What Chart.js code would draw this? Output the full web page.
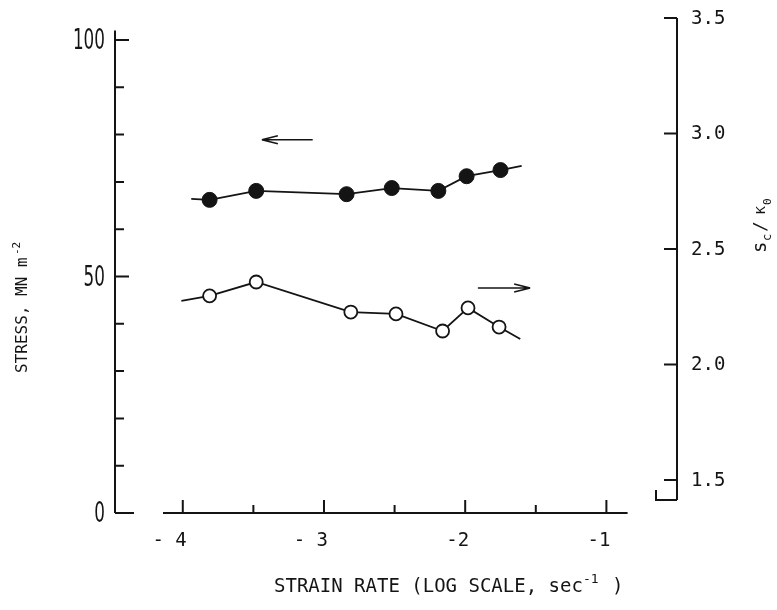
<!DOCTYPE html>
<html>
<head>
<meta charset="utf-8">
<script src="https://cdn.jsdelivr.net/npm/chart.js@4.4.1/dist/chart.umd.min.js"></script>
<style>
  html, body { margin: 0; padding: 0; background: #fff; }
  canvas { display: block; }
</style>
</head>
<body>
<canvas id="chart" width="777" height="610"></canvas>
<script>
// values; first and last entries are where the drawn line ends
const strainRateFilled = [-3.94, -3.81, -3.48, -2.84, -2.52, -2.19, -1.99, -1.75, -1.60];
const stress = [66.4, 66.2, 68.1, 67.4, 68.7, 68.1, 71.2, 72.5, 73.4];
const strainRateOpen = [-4.01, -3.81, -3.48, -2.81, -2.49, -2.16, -1.98, -1.76, -1.61];
const scRatio = [2.275, 2.297, 2.357, 2.227, 2.219, 2.145, 2.245, 2.162, 2.110];

const xTicks = [-4, -3.5, -3, -2.5, -2, -1.5, -1];
const xLabelValues = [-4, -3, -2, -1];
const xLabelText = ['- 4', '- 3', '-2', '-1'];
const leftTicks = [0, 10, 20, 30, 40, 50, 60, 70, 80, 90, 100];
const leftLabels = [0, 50, 100];
const rightTicks = [1.5, 2.0, 2.5, 3.0, 3.5];
const rightLabels = ['1.5', '2.0', '2.5', '3.0', '3.5'];

const INK = '#141414';
const MONO = "'DejaVu Sans Mono', monospace";

function endsHidden(arr, r) {
    return arr.map((_, i) => (i === 0 || i === arr.length - 1) ? 0 : r);
}

function arrow(ctx, x1, y1, x2, y2) {
    // x2,y2 is the tip
    const dir = Math.sign(x2 - x1);
    ctx.beginPath();
    ctx.moveTo(x1, y1);
    ctx.lineTo(x2, y2);
    ctx.moveTo(x2, y2);
    ctx.lineTo(x2 - dir * 16, y2 - 4);
    ctx.moveTo(x2, y2);
    ctx.lineTo(x2 - dir * 16, y2 + 4);
    ctx.stroke();
}

const paperAxes = {
    id: 'paperAxes',
    afterDraw(chart) {
        const { ctx, chartArea, scales: { x, yL, yR } } = chart;
        ctx.save();
        ctx.strokeStyle = INK;
        ctx.fillStyle = INK;
        ctx.lineWidth = 2;

        // left axis
        const lx = chartArea.left;
        ctx.beginPath();
        ctx.moveTo(lx, yL.getPixelForValue(0));
        ctx.lineTo(lx, yL.getPixelForValue(102));
        leftTicks.forEach(v => {
            const py = yL.getPixelForValue(v);
            const len = v === 0 ? 19 : (v % 50 === 0 ? 14 : 9);
            ctx.moveTo(lx, py);
            ctx.lineTo(lx + len, py);
        });
        ctx.stroke();

        ctx.font = "28px 'DejaVu Sans'";
        ctx.textAlign = 'right';
        ctx.textBaseline = 'middle';
        leftLabels.forEach(v => {
            ctx.save();
            ctx.translate(lx - 10, yL.getPixelForValue(v) + 2);
            ctx.scale(0.6, 1);
            ctx.fillText(String(v), 0, 0);
            ctx.restore();
        });

        // right axis
        const rx = chartArea.right;
        const rBottom = yR.getPixelForValue(1.413);
        ctx.beginPath();
        ctx.moveTo(rx, yR.getPixelForValue(3.5));
        ctx.lineTo(rx, rBottom);
        rightTicks.forEach(v => {
            const py = yR.getPixelForValue(v);
            ctx.moveTo(rx, py);
            ctx.lineTo(rx - 13, py);
        });
        ctx.moveTo(rx, rBottom);
        ctx.lineTo(rx - 21, rBottom);
        ctx.lineTo(rx - 21, rBottom - 10);
        ctx.stroke();

        ctx.font = '19px ' + MONO;
        ctx.textAlign = 'left';
        rightTicks.forEach((v, i) => {
            ctx.fillText(rightLabels[i], rx + 14, yR.getPixelForValue(v) + 1);
        });

        // bottom axis
        const by = yL.getPixelForValue(0);
        ctx.beginPath();
        ctx.moveTo(x.getPixelForValue(-4.14), by);
        ctx.lineTo(x.getPixelForValue(-0.85), by);
        xTicks.forEach(v => {
            const px = x.getPixelForValue(v);
            ctx.moveTo(px, by);
            ctx.lineTo(px, by - (Number.isInteger(v) ? 13 : 8));
        });
        ctx.stroke();

        ctx.textAlign = 'right';
        ctx.textBaseline = 'alphabetic';
        xLabelValues.forEach((v, i) => {
            ctx.fillText(xLabelText[i], x.getPixelForValue(v) + 4, 546);
        });

        // axis titles
        ctx.font = '19px ' + MONO;
        ctx.textAlign = 'left';
        ctx.fillText('STRAIN RATE (LOG SCALE, sec', 274, 592);
        ctx.font = '13px ' + MONO;
        ctx.fillText('-1', 583, 583);
        ctx.font = '19px ' + MONO;
        ctx.fillText(')', 612, 592);

        ctx.save();
        ctx.translate(27, 373);
        ctx.rotate(-Math.PI / 2);
        ctx.font = '16px ' + MONO;
        ctx.fillText('STRESS, MN m', 0, 0);
        ctx.font = '11px ' + MONO;
        ctx.fillText('-2', 118, -7);
        ctx.restore();

        ctx.save();
        ctx.translate(766, 253);
        ctx.rotate(-Math.PI / 2);
        ctx.font = '19px ' + MONO;
        ctx.fillText('s', 0, 0);
        ctx.font = '12px ' + MONO;
        ctx.fillText('c', 12, 5);
        ctx.font = '18px ' + MONO;
        ctx.fillText('/', 21, 0);
        ctx.font = '13px ' + MONO;
        ctx.fillText('K', 39, -1);
        ctx.font = '11px ' + MONO;
        ctx.fillText('0', 48, 5);
        ctx.restore();

        // direction arrows
        ctx.lineWidth = 1.6;
        arrow(ctx, x.getPixelForValue(-3.08), yL.getPixelForValue(78.9),
                   x.getPixelForValue(-3.44), yL.getPixelForValue(78.9));
        arrow(ctx, x.getPixelForValue(-1.91), yR.getPixelForValue(2.331),
                   x.getPixelForValue(-1.54), yR.getPixelForValue(2.331));

        ctx.restore();
    }
};

new Chart(document.getElementById('chart'), {
    type: 'line',
    data: {
        datasets: [
            {
                label: 'Stress',
                data: strainRateFilled.map((v, i) => ({ x: v, y: stress[i] })),
                yAxisID: 'yL',
                borderColor: INK,
                borderWidth: 1.8,
                pointRadius: endsHidden(strainRateFilled, 7.5),
                pointBackgroundColor: INK,
                pointBorderColor: INK,
                pointBorderWidth: 1,
                tension: 0,
            },
            {
                label: 'sc/K0',
                data: strainRateOpen.map((v, i) => ({ x: v, y: scRatio[i] })),
                yAxisID: 'yR',
                borderColor: INK,
                borderWidth: 1.8,
                pointRadius: endsHidden(strainRateOpen, 6.5),
                pointBackgroundColor: '#fff',
                pointBorderColor: INK,
                pointBorderWidth: 1.8,
                tension: 0,
            },
        ],
    },
    options: {
        responsive: false,
        animation: false,
        devicePixelRatio: 1,
        layout: { padding: { left: 115, right: 100, top: 18, bottom: 97 } },
        plugins: {
            legend: { display: false },
            tooltip: { enabled: false },
        },
        scales: {
            x: { type: 'linear', min: -4.48, max: -0.5, display: false },
            yL: { type: 'linear', position: 'left', min: 0, max: 104.65, display: false },
            yR: { type: 'linear', position: 'right', min: 1.357, max: 3.5, display: false },
        },
    },
    plugins: [paperAxes],
});
</script>
</body>
</html>
